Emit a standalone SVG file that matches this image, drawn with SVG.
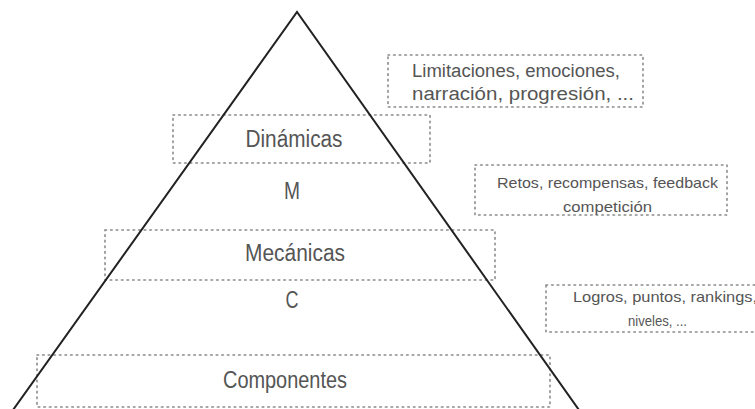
<svg xmlns="http://www.w3.org/2000/svg" width="755" height="409" viewBox="0 0 755 409">
<style>
.box{fill:none;stroke:#8a8a8a;stroke-width:1.6;stroke-dasharray:1.6 4;stroke-linecap:round}
.t{font-family:"Liberation Sans",Arial,sans-serif;fill:#555}
.big{font-size:23px;text-anchor:middle}
.sm{font-size:18px}
.xs{font-size:15px}
.tri{fill:none;stroke:#222;stroke-width:2;stroke-linejoin:miter}
</style>
<rect width="755" height="409" fill="#fff"/>
<g id="nodes">
<g id="limitaciones">
<rect class="box" x="388" y="55" width="255" height="52"/>
<text class="t sm" x="412" y="77" textLength="208" lengthAdjust="spacingAndGlyphs">Limitaciones,  emociones,</text>
<text class="t sm" x="412" y="100" textLength="222" lengthAdjust="spacingAndGlyphs">narración, progresión, ...</text>
</g>
<g id="dinamicas">
<rect class="box" x="173" y="115" width="257" height="48"/>
<text class="t big" x="294" y="147" textLength="97" lengthAdjust="spacingAndGlyphs">Dinámicas</text>
</g>
<g id="m">
<text class="t big" x="292" y="199" textLength="16" lengthAdjust="spacingAndGlyphs">M</text>
</g>
<g id="retos">
<rect class="box" x="475" y="165" width="252" height="50"/>
<text class="t xs" x="497" y="188" textLength="221" lengthAdjust="spacingAndGlyphs">Retos, recompensas, feedback</text>
<text class="t xs" x="563" y="212" textLength="89" lengthAdjust="spacingAndGlyphs">competición</text>
</g>
<g id="mecanicas">
<rect class="box" x="105" y="230" width="390" height="50"/>
<text class="t big" x="295" y="261" textLength="100" lengthAdjust="spacingAndGlyphs">Mecánicas</text>
</g>
<g id="c">
<text class="t big" x="292" y="308" textLength="13" lengthAdjust="spacingAndGlyphs">C</text>
</g>
<g id="logros">
<rect class="box" x="546" y="285" width="220" height="47"/>
<text class="t xs" x="573" y="302" textLength="184" lengthAdjust="spacingAndGlyphs">Logros, puntos, rankings,</text>
<text class="t xs" x="628" y="326" textLength="59" lengthAdjust="spacingAndGlyphs">niveles, ...</text>
</g>
<g id="componentes">
<rect class="box" x="37" y="355" width="513" height="52"/>
<text class="t big" x="285" y="388" textLength="124" lengthAdjust="spacingAndGlyphs">Componentes</text>
</g>
</g>
<g id="connectors">
<path class="tri" d="M13,410 L297,12 L579,410"/>
</g>
</svg>
